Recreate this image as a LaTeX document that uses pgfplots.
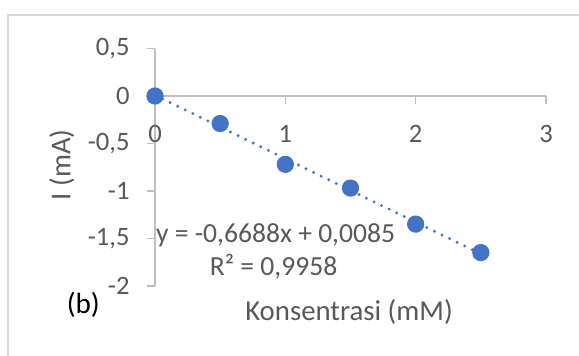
\documentclass[border=0pt]{standalone}
\usepackage{fontspec}
\setmainfont{Carlito}
\usepackage{pgfplots}
\pgfplotsset{compat=1.18}
\definecolor{txtgray}{HTML}{595959}
\definecolor{axgray}{HTML}{BFBFBF}
\definecolor{framegray}{HTML}{D9D9D9}
\definecolor{ptblue}{HTML}{4472C4}
\begin{document}
\begin{tikzpicture}
\useasboundingbox (0,0) rectangle (289.5pt,178pt);
\fill[white] (0,0) rectangle (289.5pt,178pt);
\draw[framegray, line width=0.8pt] (4pt,0) -- (4pt,170.5pt) -- (289.5pt,170.5pt);
\begin{axis}[
  at={(77.5pt,35.1pt)}, anchor=south west,
  width=195.5pt, height=118.6pt, scale only axis,
  xmin=0, xmax=3, ymin=-2, ymax=0.5,
  axis x line=middle, axis y line=left,
  x axis line style={-}, y axis line style={-},
  axis line style={axgray, line width=0.8pt},
  tick style={axgray, line width=0.8pt},
  tick align=outside, major tick length=4pt,
  hide obscured x ticks=false, hide obscured y ticks=false,
  xtick={0,1,2,3}, xticklabels={0,1,2,3},
  ytick={-2,-1.5,-1,-0.5,0,0.5},
  yticklabels={{-2},{-1,5},{-1},{-0,5},{0},{0,5}},
  xticklabel style={anchor=center, inner sep=0pt, yshift=-15pt, text=txtgray, font=\fontsize{13.3}{16}\selectfont},
  yticklabel style={anchor=east, inner sep=0pt, xshift=-8.5pt, text=txtgray, font=\fontsize{13.3}{16}\selectfont},
  clip=false,
]
\addplot[ptblue, line width=1.6pt, dash pattern=on 0pt off 4.2pt, line cap=round] coordinates {(0,0.0085) (2.5,-1.6635)};
\addplot[only marks, mark=*, mark size=4.1pt, mark options={fill=ptblue, draw=ptblue}] coordinates {
 (0,0) (0.5,-0.29) (1,-0.72) (1.5,-0.97) (2,-1.35) (2.5,-1.65)};
\node[text=txtgray, font=\fontsize{13.8}{16}\selectfont] at (axis cs:0.925,-1.465) {y = -0,6688x + 0,0085};
\node[text=txtgray, font=\fontsize{13.8}{16}\selectfont] at (axis cs:0.91,-1.80) {R² = 0,9958};
\node[text=txtgray, font=\fontsize{14.4}{17}\selectfont] at (axis cs:1.489,-2.276) {Konsentrasi (mM)};
\node[text=black, font=\fontsize{14.6}{17}\selectfont] at (axis cs:-0.55,-2.20) {(b)};
\node[text=txtgray, font=\fontsize{14.4}{17}\selectfont, rotate=90] at (axis cs:-0.714,-0.727) {I (mA)};
\end{axis}
\end{tikzpicture}
\end{document}
